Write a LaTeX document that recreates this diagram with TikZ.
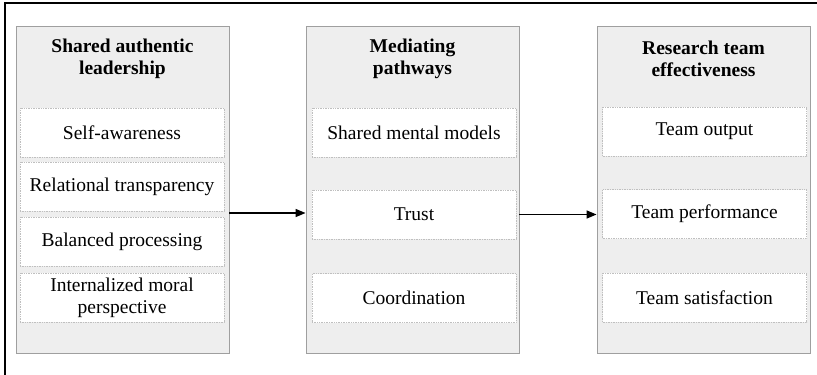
\documentclass[tikz,border=0pt]{standalone}
\usepackage{fontspec}
\setmainfont{Liberation Serif}
\usetikzlibrary{positioning, arrows.meta}

\begin{document}
\begin{tikzpicture}[
      x=1pt, y=-1pt,
      every node/.style={font=\rmfamily\fontsize{19.5}{22}\selectfont},
      panel/.style={draw=gray!75, fill=gray!13, line width=0.9pt, minimum width=213pt, minimum height=327pt, inner sep=0pt},
      title/.style={font=\rmfamily\fontsize{19.5}{22}\selectfont\bfseries, align=center, inner sep=0pt},
      item/.style={draw=gray!50, densely dotted, fill=white, line width=0.7pt, minimum width=204pt, minimum height=49pt, align=center, inner sep=0pt},
      link/.style={draw, -{Triangle[length=10pt, width=8pt]}, line width=1.5pt}
    ]
    \useasboundingbox (0,0) rectangle (817,375);
    % outer frame (cropped)
    \draw[line width=1.4pt] (5,375) -- (5,3) -- (817,3);

    % panels
    \node[panel] (lead) at (122.5,189.5) {};
    \node[panel] (med) at (412.5,189.5) {};
    \node[panel] (eff) at (703.5,189.5) {};

    % titles
    \node[title] (leadT) at (122.5,59) {Shared authentic\\leadership};
    \node[title] (medT) at (412.5,59) {Mediating\\pathways};
    \node[title] (effT) at (703.5,59) {Research team\\effectiveness};

    % Shared authentic leadership
    \node[item] (self) at (122,132.5) {Self-awareness};
    \node[item] (rel) at (122,186.5) {Relational transparency};
    \node[item] (bal) at (122,241.5) {Balanced processing};
    \node[item] (moral) at (122,297.5) {Internalized moral\\perspective};

    % Mediating pathways
    \node[item] (smm) at (414,132.5) {Shared mental models};
    \node[item] (trust) at (414,214.5) {Trust};
    \node[item] (coord) at (414,298) {Coordination};

    % Research team effectiveness
    \node[item] (out) at (704.5,131.5) {Team output};
    \node[item] (perf) at (704.5,214) {Team performance};
    \node[item] (sat) at (704.5,297.5) {Team satisfaction};

    % links
    \draw[link] (lead.east |- 0,213) -- (med.west |- 0,213);
    \draw[link] (med.east |- trust) -- (eff.west |- trust);
\end{tikzpicture}
\end{document}
